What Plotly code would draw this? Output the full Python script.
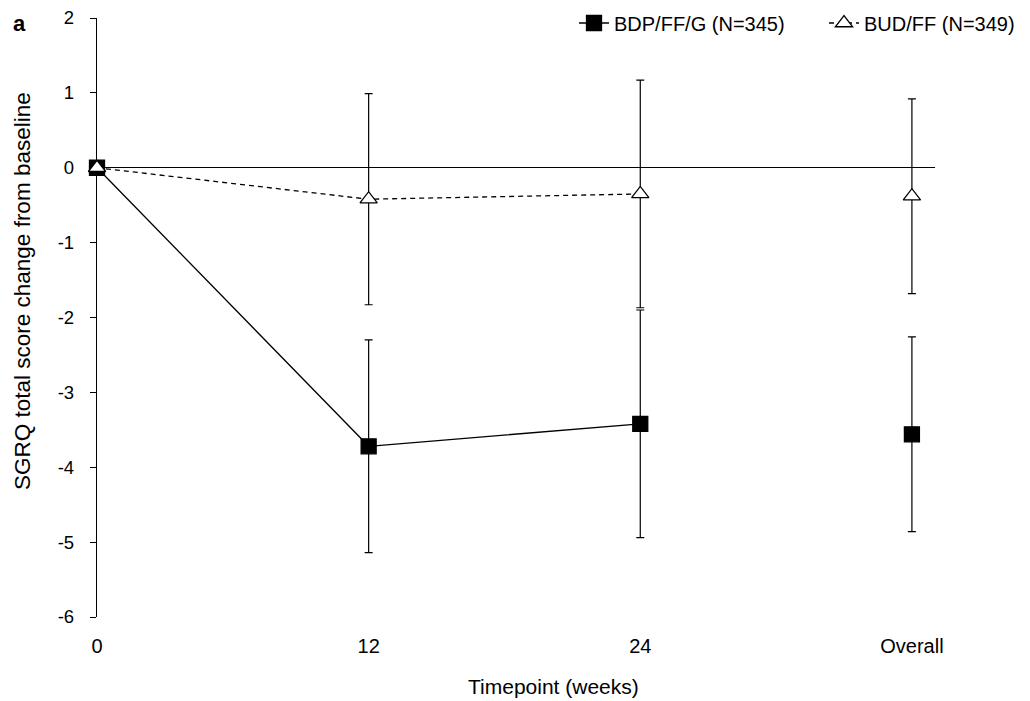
import plotly.graph_objects as go

timepoints = ["0", "12", "24", "Overall"]
bdp_mean = [0.0, -3.72, -3.42, -3.56]
bdp_err = [0.0, 1.42, 1.52, 1.30]
bud_mean = [0.0, -0.42, -0.35, -0.38]
bud_err = [0.0, 1.41, 1.52, 1.30]
y_tickvals = [2, 1, 0, -1, -2, -3, -4, -5, -6]
y_ticktext = ["2", "1", "0", "-1", "-2", "-3", "-4", "-5", "-6"]

font = "Arial, Liberation Sans, sans-serif"
W, H = 1030, 701
OFF = 8  # page body margin of the browser
# plot area in screen pixels
PL, PR, PT, PB = 97, 935, 18, 617
L, R, T, B = PL - OFF, W - (PR - OFF), PT - OFF, H - (PB - OFF)
PW, PH = PR - PL, PB - PT

def px(xs):
    return (xs - PL) / PW

def py(ys):
    return (PB - ys) / PH

fig = go.Figure()

def add_series(name, mean, err, symbol, fill, dash, size, legend):
    fig.add_trace(go.Scatter(
        x=timepoints[:3], y=mean[:3], name=name, mode="lines+markers",
        line=dict(color="black", width=1.3, dash=dash),
        marker=dict(symbol=symbol, size=size, color=fill,
                    line=dict(color="black", width=1.3)),
        error_y=dict(type="data", array=[None if e == 0 else e for e in err[:3]],
                     color="black", thickness=1.2, width=4),
        cliponaxis=False, legendgroup=name, legend=legend))
    fig.add_trace(go.Scatter(
        x=timepoints[3:], y=mean[3:], name=name, mode="markers",
        marker=dict(symbol=symbol, size=size, color=fill,
                    line=dict(color="black", width=1.3)),
        error_y=dict(type="data", array=err[3:], color="black",
                     thickness=1.2, width=4),
        cliponaxis=False, legendgroup=name, showlegend=False, legend=legend))

add_series("BDP/FF/G (N=345)", bdp_mean, bdp_err, "square", "black", "solid", 15, "legend")
add_series("BUD/FF (N=349)", bud_mean, bud_err, "triangle-up", "white", "5px,4px", 15, "legend2")

legend_common = dict(orientation="h", xref="container", yref="container",
                     xanchor="left", y=1 - (23 - OFF) / H, yanchor="middle",
                     font=dict(size=20), bgcolor="rgba(0,0,0,0)")

fig.update_layout(
    width=W, height=H,
    margin=dict(l=L, r=R, t=T, b=B, autoexpand=False),
    paper_bgcolor="white", plot_bgcolor="white",
    font=dict(family=font, size=19, color="black"),
    legend=dict(x=(574 - OFF) / W, **legend_common),
    legend2=dict(x=(824 - OFF) / W, **legend_common),
    xaxis=dict(type="category", categoryorder="array", categoryarray=timepoints,
               range=[0, 3.085], showline=False, showgrid=False, zeroline=False,
               ticks="", ticklabelstandoff=15, tickfont=dict(size=20)),
    yaxis=dict(range=[-6, 2], tickvals=y_tickvals, ticktext=y_ticktext,
               showline=True, linecolor="black",
               linewidth=1.3, ticks="outside", ticklen=6, tickcolor="black",
               tickwidth=1.3, showgrid=False, zeroline=True, zerolinecolor="black",
               zerolinewidth=1.3, layer="below traces", tickfont=dict(size=18.5),
               ticklabelstandoff=12, ticklabeloverflow="allow"),
    showlegend=True,
)

# axis titles (positions given in screen pixels)
fig.add_annotation(text="SGRQ total score change from baseline",
                   xref="paper", yref="paper", x=px(22), y=py(291), textangle=-90,
                   xanchor="center", yanchor="middle", showarrow=False,
                   font=dict(size=22.5, family=font))
fig.add_annotation(text="Timepoint (weeks)", xref="paper", yref="paper",
                   x=px(553), y=py(686),
                   xanchor="center", yanchor="middle", showarrow=False,
                   font=dict(size=21, family=font))
fig.add_annotation(text="<b>a</b>", xref="paper", yref="paper",
                   x=px(11), y=py(24),
                   xanchor="left", yanchor="middle", showarrow=False,
                   font=dict(size=22, family=font))

fig.write_html("out.html")
